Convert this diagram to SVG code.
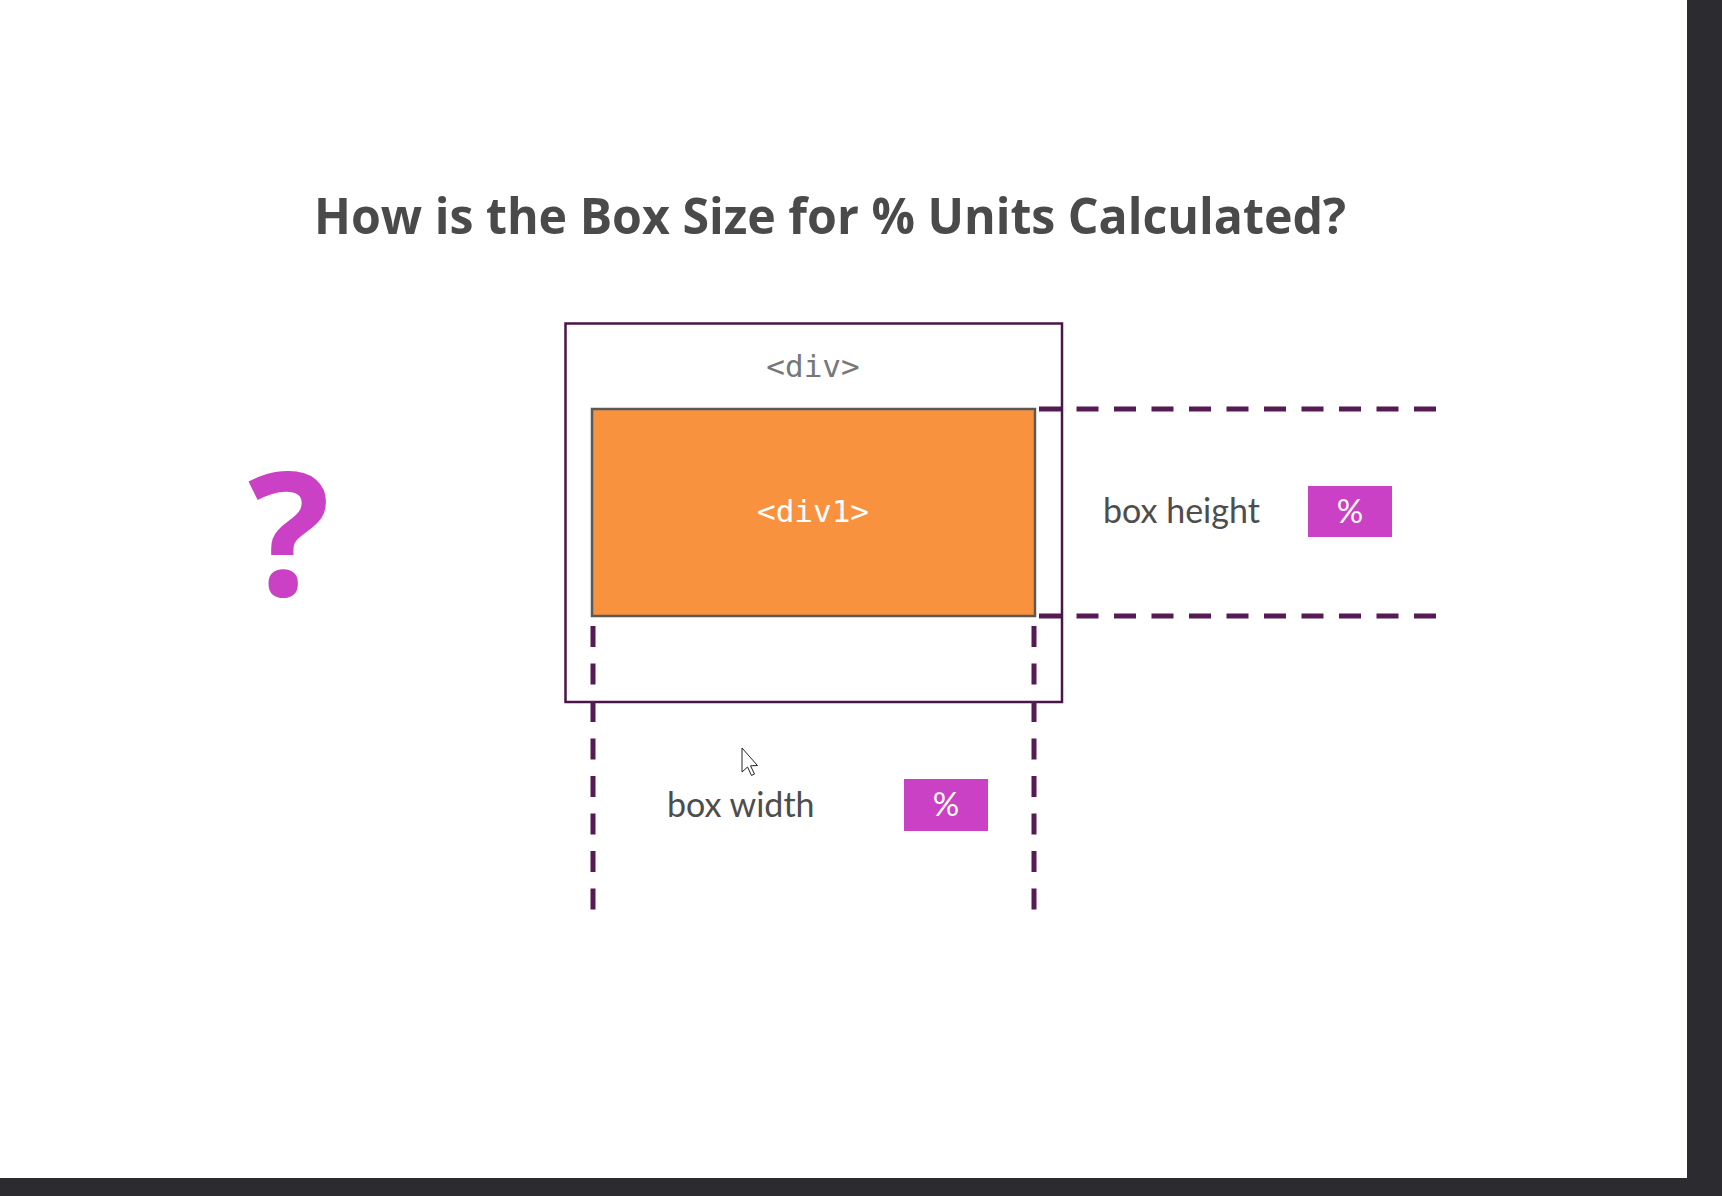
<svg xmlns="http://www.w3.org/2000/svg" width="1722" height="1196" viewBox="0 0 1722 1196">
  <style>
    .title { font-family: "Open Sans", "Liberation Sans", sans-serif; font-weight: 700; font-size: 50px; fill: #4a4a4a; }
    .mono { font-family: "DejaVu Sans Mono", "Liberation Mono", monospace; font-size: 31px; }
    .lbl { font-family: Lato, "Liberation Sans", sans-serif; font-size: 34px; fill: #4d4d4d; }
    .pct { font-family: Lato, "Liberation Sans", sans-serif; font-size: 33px; fill: #ffffff; text-anchor: middle; }
    .badge { fill: #cb41c5; }
    .dash { stroke: #561a55; stroke-width: 5; fill: none; stroke-dasharray: 22 15.5; }
  </style>
  <rect x="0" y="0" width="1722" height="1196" fill="#ffffff"/>
  <rect x="1687" y="0" width="35" height="1196" fill="#2b2b30"/>
  <rect x="0" y="1178" width="1722" height="18" fill="#2b2b30"/>

  <text class="title" x="830" y="234" text-anchor="middle" textLength="1032" lengthAdjust="spacingAndGlyphs">How is the Box Size for % Units Calculated?</text>

  <g id="question">
    <text x="289" y="596" text-anchor="middle" font-family="'Open Sans', 'Liberation Sans', sans-serif" font-weight="700" font-size="172" fill="#cb41c5">?</text>
  </g>

  <g id="div-outer">
    <rect x="565.5" y="323.5" width="496.5" height="378.5" fill="#ffffff" stroke="#4b1447" stroke-width="2.5"/>
    <text class="mono" x="813" y="377" text-anchor="middle" fill="#777777" font-weight="300">&lt;div&gt;</text>
  </g>

  <g id="div1">
    <rect x="592" y="409" width="443" height="207" fill="#f9923f" stroke="#595959" stroke-width="2.5"/>
    <text class="mono" x="813" y="522" text-anchor="middle" fill="#ffffff">&lt;div1&gt;</text>
  </g>

  <g id="connectors">
    <line class="dash" x1="1039" y1="409" x2="1436" y2="409"/>
    <line class="dash" x1="1039" y1="616" x2="1436" y2="616"/>
    <line class="dash" x1="593" y1="626" x2="593" y2="910" style="stroke-dasharray: 21 16.5"/>
    <line class="dash" x1="1034" y1="626" x2="1034" y2="910" style="stroke-dasharray: 21 16.5"/>
  </g>

  <g id="box-height">
    <text class="lbl" x="1103" y="523">box height</text>
    <rect class="badge" x="1308" y="486" width="84" height="51"/>
    <text class="pct" x="1350" y="523">%</text>
  </g>

  <g id="box-width">
    <text class="lbl" x="667" y="817">box width</text>
    <rect class="badge" x="904" y="779" width="84" height="52"/>
    <text class="pct" x="946" y="816">%</text>
  </g>

  <g id="cursor">
    <path d="M742,748 L742,772 L747.5,767 L751.5,775.5 L754.5,774 L750.5,765.8 L757.5,765.5 Z" fill="#ffffff" stroke="#222222" stroke-width="1"/>
  </g>
</svg>
